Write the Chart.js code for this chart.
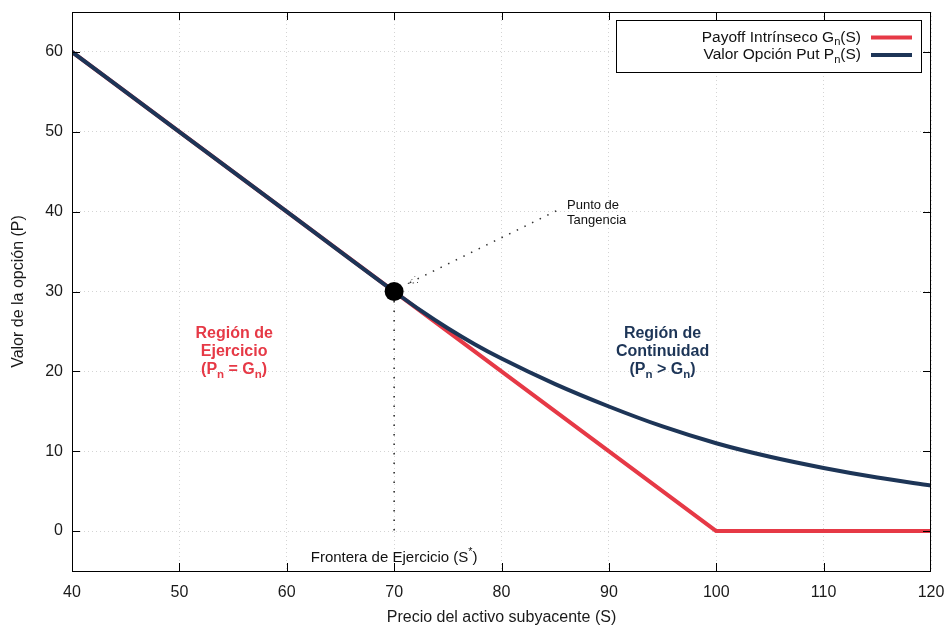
<!DOCTYPE html>
<html>
<head>
<meta charset="utf-8">
<script src="https://cdn.jsdelivr.net/npm/chart.js@4.4.0/dist/chart.umd.min.js"></script>
<style>
  html, body { margin: 0; padding: 0; background: #fff; }
</style>
</head>
<body>
<canvas id="chart" width="947" height="627"></canvas>
<script>
// Data
const priceS = [40, 50, 60, 70, 72.5, 75, 77.5, 80, 85, 90, 95, 100, 105, 110, 115, 120];
const putValue = [60, 50, 40, 30, 27.6, 25.4, 23.4, 21.6, 18.4, 15.6, 13.1, 11.0, 9.3, 7.9, 6.7, 5.7];
const payoffS = [40, 100, 120];
const payoffValue = [60, 0, 0];
const xTicks = [40, 50, 60, 70, 80, 90, 100, 110, 120];
const yTicks = [0, 10, 20, 30, 40, 50, 60];

// Exercise frontier / tangency point
const exerciseS = 70;
const exerciseP = 30;
const frontierLine = [{ x: 70, y: 30 }, { x: 70, y: 0 }];
const tangentArrow = [{ x: 85.1, y: 40.1 }, { x: 71.3, y: 31.0 }];

const RED = '#e63946';
const NAVY = '#1d3557';
const FONT = '"Liberation Sans", Arial, sans-serif';

// Draw text with sub/superscripts
function richText(ctx, parts, x, y, align, size, weight, color) {
    const fontFor = s => `${weight} ${s}px ${FONT}`;
    let w = 0;
    parts.forEach(p => {
        ctx.font = fontFor(p.s ? size * 0.72 : size);
        w += ctx.measureText(p.t).width;
    });
    let cx = align === 'center' ? x - w / 2 : align === 'right' ? x - w : x;
    ctx.fillStyle = color;
    ctx.textBaseline = 'middle';
    ctx.textAlign = 'left';
    parts.forEach(p => {
        const s = p.s ? size * 0.72 : size;
        ctx.font = fontFor(s);
        const dy = p.s === 'sub' ? size * 0.3 : p.s === 'sup' ? -size * 0.4 : 0;
        ctx.fillText(p.t, cx, y + dy);
        cx += ctx.measureText(p.t).width;
    });
}

// Frame, inward ticks, labels and legend
const decorations = {
    id: 'decorations',
    afterDraw(chart) {
        const { ctx, chartArea: a, scales: { x, y } } = chart;
        ctx.save();

        // frame
        ctx.strokeStyle = '#000';
        ctx.lineWidth = 1;
        ctx.setLineDash([]);
        ctx.strokeRect(a.left + 0.5, a.top + 0.5, a.right - a.left - 1, a.bottom - a.top);

        // inward (mirrored) ticks
        ctx.beginPath();
        xTicks.forEach(v => {
            const px = Math.round(x.getPixelForValue(v)) + 0.5;
            if (v === x.min || v === x.max) return;
            ctx.moveTo(px, a.bottom); ctx.lineTo(px, a.bottom - 8);
            ctx.moveTo(px, a.top); ctx.lineTo(px, a.top + 8);
        });
        yTicks.forEach(v => {
            const py = Math.round(y.getPixelForValue(v)) + 0.5;
            ctx.moveTo(a.left, py); ctx.lineTo(a.left + 8, py);
            ctx.moveTo(a.right, py); ctx.lineTo(a.right - 8, py);
        });
        ctx.stroke();

        // small arrow head at tangency end
        const p0 = tangentArrow[0], p1 = tangentArrow[1];
        const tx = x.getPixelForValue(p1.x), ty = y.getPixelForValue(p1.y);
        const ang = Math.atan2(ty - y.getPixelForValue(p0.y), tx - x.getPixelForValue(p0.x));
        ctx.strokeStyle = '#444';
        ctx.setLineDash([1.5, 3]);
        ctx.beginPath();
        [-0.35, 0.35].forEach(d => {
            ctx.moveTo(tx, ty);
            ctx.lineTo(tx - 10 * Math.cos(ang + d), ty - 10 * Math.sin(ang + d));
        });
        ctx.stroke();
        ctx.setLineDash([]);

        // region labels
        const rx1 = x.getPixelForValue(55.1), rx2 = x.getPixelForValue(95.0);
        const ry = y.getPixelForValue(22.45);
        richText(ctx, [{ t: 'Región de' }], rx1, ry - 18, 'center', 16, 'bold', RED);
        richText(ctx, [{ t: 'Ejercicio' }], rx1, ry, 'center', 16, 'bold', RED);
        richText(ctx, [{ t: '(P' }, { t: 'n', s: 'sub' }, { t: ' = G' }, { t: 'n', s: 'sub' }, { t: ')' }], rx1, ry + 18, 'center', 16, 'bold', RED);
        richText(ctx, [{ t: 'Región de' }], rx2, ry - 18, 'center', 16, 'bold', NAVY);
        richText(ctx, [{ t: 'Continuidad' }], rx2, ry, 'center', 16, 'bold', NAVY);
        richText(ctx, [{ t: '(P' }, { t: 'n', s: 'sub' }, { t: ' > G' }, { t: 'n', s: 'sub' }, { t: ')' }], rx2, ry + 18, 'center', 16, 'bold', NAVY);

        // tangency label
        const tlx = x.getPixelForValue(86.1);
        richText(ctx, [{ t: 'Punto de' }], tlx, y.getPixelForValue(40.75), 'left', 13, 'normal', '#111');
        richText(ctx, [{ t: 'Tangencia' }], tlx, y.getPixelForValue(38.9), 'left', 13, 'normal', '#111');

        // frontier label
        richText(ctx, [{ t: 'Frontera de Ejercicio (S' }, { t: '*', s: 'sup' }, { t: ')' }],
            x.getPixelForValue(exerciseS), y.getPixelForValue(-3.35), 'center', 15, 'normal', '#111');

        // legend
        const bx = a.right - 315, by = a.top + 8, bw = 305, bh = 52;
        ctx.fillStyle = '#fff';
        ctx.fillRect(bx, by, bw, bh);
        ctx.strokeStyle = '#000';
        ctx.lineWidth = 1;
        ctx.strokeRect(bx + 0.5, by + 0.5, bw, bh);
        const rows = [
            { parts: [{ t: 'Payoff Intrínseco G' }, { t: 'n', s: 'sub' }, { t: '(S)' }], color: RED },
            { parts: [{ t: 'Valor Opción Put P' }, { t: 'n', s: 'sub' }, { t: '(S)' }], color: NAVY }
        ];
        rows.forEach((r, i) => {
            const ly = by + 17.5 + i * 17.5;
            richText(ctx, r.parts, bx + 245, ly, 'right', 15.5, 'normal', '#111');
            ctx.strokeStyle = r.color;
            ctx.lineWidth = 4;
            ctx.beginPath();
            ctx.moveTo(bx + 255, ly);
            ctx.lineTo(bx + 296, ly);
            ctx.stroke();
        });

        ctx.restore();
    }
};

const ctx = document.getElementById('chart').getContext('2d');
const gridOpts = { color: '#d4d4d4', lineWidth: 1, drawTicks: false };
const tickFont = { family: FONT, size: 16 };

const chart = new Chart(ctx, {
    type: 'line',
    data: {
        datasets: [
            {
                label: 'Punto de Tangencia',
                data: [{ x: exerciseS, y: exerciseP }],
                showLine: false,
                pointRadius: 9.5,
                pointBackgroundColor: '#000',
                pointBorderColor: '#000',
                pointBorderWidth: 0,
                order: 0
            },
            {
                label: 'Valor Opción Put Pn(S)',
                data: priceS.map((s, i) => ({ x: s, y: putValue[i] })),
                borderColor: NAVY,
                borderWidth: 4,
                pointRadius: 0,
                cubicInterpolationMode: 'monotone',
                order: 1
            },
            {
                label: 'Payoff Intrínseco Gn(S)',
                data: payoffS.map((s, i) => ({ x: s, y: payoffValue[i] })),
                borderColor: RED,
                borderWidth: 4,
                pointRadius: 0,
                borderJoinStyle: 'round',
                order: 2
            },
            {
                label: 'Frontera',
                data: frontierLine,
                borderColor: '#222',
                borderWidth: 1.5,
                borderDash: [1.5, 8],
                pointRadius: 0,
                order: 3
            },
            {
                label: 'Flecha',
                data: tangentArrow,
                borderColor: '#333',
                borderWidth: 1.5,
                borderDash: [1.5, 7],
                pointRadius: 0,
                order: 3
            }
        ]
    },
    options: {
        responsive: false,
        animation: false,
        layout: { padding: { top: 12, right: 16, left: 0, bottom: 0 } },
        plugins: { legend: { display: false }, tooltip: { enabled: false } },
        scales: {
            x: {
                type: 'linear',
                min: 40,
                max: 120,
                afterBuildTicks: s => { s.ticks = xTicks.map(v => ({ value: v })); },
                afterFit: s => { s.height = 56; s.paddingLeft = 0; s.paddingRight = 0; },
                grid: gridOpts,
                border: { display: false, dash: [1, 3] },
                ticks: { padding: 12, font: tickFont, color: '#1a1a1a', maxRotation: 0 },
                title: {
                    display: true,
                    text: 'Precio del activo subyacente (S)',
                    font: { family: FONT, size: 16 },
                    color: '#1a1a1a',
                    padding: { top: 0, bottom: 0 }
                }
            },
            y: {
                min: -5,
                max: 65,
                afterBuildTicks: s => { s.ticks = yTicks.map(v => ({ value: v })); },
                afterFit: s => { s.width = 72; s.paddingTop = 0; s.paddingBottom = 0; },
                grid: gridOpts,
                border: { display: false, dash: [1, 3] },
                ticks: { padding: 9, font: tickFont, color: '#1a1a1a' },
                title: {
                    display: true,
                    text: 'Valor de la opción (P)',
                    font: { family: FONT, size: 16 },
                    color: '#1a1a1a',
                    padding: { top: 9, bottom: 0 }
                }
            }
        }
    },
    plugins: [decorations]
});
</script>
</body>
</html>
